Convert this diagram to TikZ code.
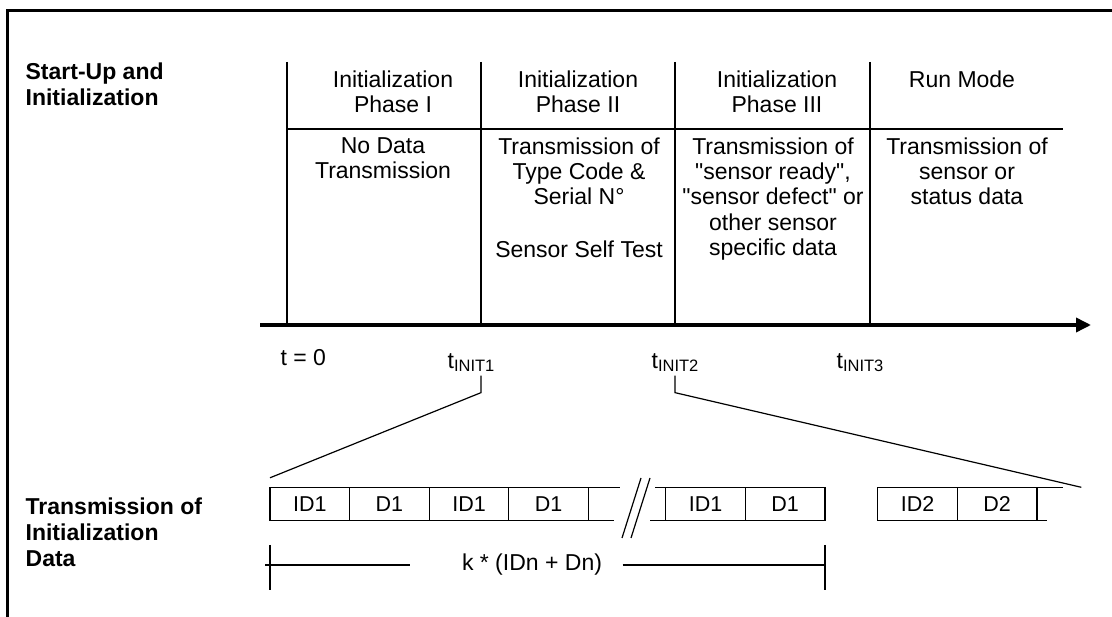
\documentclass[tikz,border=0pt]{standalone}
\usepackage{fontspec}
\setmainfont{Liberation Sans}
\usetikzlibrary{arrows.meta,positioning}

\begin{document}
\begin{tikzpicture}[x=1pt, y=-1pt, line width=1.3pt,
    rowlabel/.style={align=left, anchor=north west, inner sep=0pt, font=\fontsize{23}{26}\selectfont\bfseries},
    phasetext/.style={align=center, anchor=north, inner sep=0pt, font=\fontsize{23}{25.3}\selectfont},
    timelabel/.style={anchor=base west, inner sep=0pt, font=\fontsize{23}{26}\selectfont},
    slot/.style={draw, line width=1.2pt, minimum width=79.6pt, minimum height=33.4pt, inner sep=0pt, outer sep=0pt, font=\fontsize{21.5}{24}\selectfont},
    timeline/.style={line width=3.5pt, -{Triangle[length=15pt,width=14pt]}}]

                \useasboundingbox (0,0) rectangle (1112,617);

                % Frame
                \draw[line width=2.5pt] (7.5,617) -- (7.5,10.7) -- (1112,10.7);

                % Row labels
                \node[rowlabel] (startup) at (25,62) {Start-Up and\\Initialization};
                \node[rowlabel] (initdata) at (25,497) {Transmission of\\Initialization\\Data};

                % Phase borders
                \coordinate (c0) at (287,62);
                \coordinate (c1) at (481,62);
                \coordinate (c2) at (675,62);
                \coordinate (c3) at (870,62);
                \coordinate (t0) at (260,325);
                \coordinate (tend) at (1091,325);

                \draw (c0) -- (c0 |- t0);
                \draw (c1) -- (c1 |- t0);
                \draw (c2) -- (c2 |- t0);
                \draw (c3) -- (c3 |- t0);
                \draw (c0 |- 0,129) -- (1063,129);

                % Phase headers
                \node[phasetext] (ph1) at (393,70) {Initialization\\Phase I};
                \node[phasetext] (ph2) at (578,70) {Initialization\\Phase II};
                \node[phasetext] (ph3) at (777,70) {Initialization\\Phase III};
                \node[phasetext] (run) at (962,70) {Run Mode};

                % Phase contents
                \node[phasetext] (tx1) at (383,137) {No Data\\Transmission};
                \node[phasetext] (tx2) at (579,137) {Transmission of\\Type Code \&\\Serial N°\\[27pt]Sensor Self Test};
                \node[phasetext] (tx3) at (773,137) {Transmission of\\\textquotedbl sensor ready\textquotedbl,\\\textquotedbl sensor defect\textquotedbl{} or\\other sensor\\specific data};
                \node[phasetext] (tx4) at (967,137) {Transmission of\\sensor or\\status data};

                % Time axis
                \draw[timeline] (t0) -- (tend);
                \node[timelabel] (tzero) at (280,366) {t = 0};
                \node[timelabel] (tinit1) at (447,369) {t\raisebox{-3pt}{\fontsize{16.5}{16}\selectfont INIT1}};
                \node[timelabel] (tinit2) at (651,369) {t\raisebox{-3pt}{\fontsize{16.5}{16}\selectfont INIT2}};
                \node[timelabel] (tinit3) at (836,369) {t\raisebox{-3pt}{\fontsize{16.5}{16}\selectfont INIT3}};

                % Data slots
                \node[slot, anchor=north west] (id1a) at (270,487.3) {ID1};
                \node[slot, right=0pt of id1a] (d1a) {D1};
                \node[slot, right=0pt of d1a] (id1b) {ID1};
                \node[slot, right=0pt of id1b] (d1b) {D1};
                \node[slot, anchor=north west] (id1n) at (665.7,487.3) {ID1};
                \node[slot, right=0pt of id1n] (d1n) {D1};
                \node[slot, anchor=north west] (id2) at (877.7,487.3) {ID2};
                \node[slot, right=0pt of id2] (d2) {D2};

                \draw[line width=1.2pt] (d1b.north east) -- ++(32,0);
                \draw[line width=1.2pt] (d1b.south east) -- ++(26,0);
                \draw[line width=1.2pt] (id1n.north west) -- ++(-11,0);
                \draw[line width=1.2pt] (id1n.south west) -- ++(-16,0);
                \draw[line width=1.2pt] (d2.north east) -- ++(26,0);
                \draw[line width=1.2pt] (d2.south east) -- ++(10,0);

                % Break mark
                \coordinate (brk) at (636,508);
                \draw[line width=1.2pt] (brk) ++(-14,30) -- ++(19,-60);
                \draw[line width=1.2pt] (brk) ++(-5,30) -- ++(19,-60);

                % Zoom lines
                \draw[line width=1.2pt] (tinit1.south -| c1) ++(0,3) -- ++(0,17) -- ([yshift=9.5pt]id1a.north west);
                \draw[line width=1.2pt] (tinit2.south -| c2) ++(0,3) -- ++(0,17) -- ([xshift=44.4pt]d2.north east);

                % Span of k slots
                \node[inner sep=0pt, font=\fontsize{23}{26}\selectfont] (span) at (532,565) {k * (IDn + Dn)};
                \draw[line width=1.2pt] (id1a.west |- span) ++(-5,0) -- ++(145,0);
                \draw[line width=1.2pt] (span.east) ++(20,0) -- (d1n.east |- span);
                \draw[line width=1.2pt] (id1a.west |- span) ++(0,-20) -- ++(0,45);
                \draw[line width=1.2pt] (d1n.east |- span) ++(0,-20) -- ++(0,45);

\end{tikzpicture}
\end{document}
